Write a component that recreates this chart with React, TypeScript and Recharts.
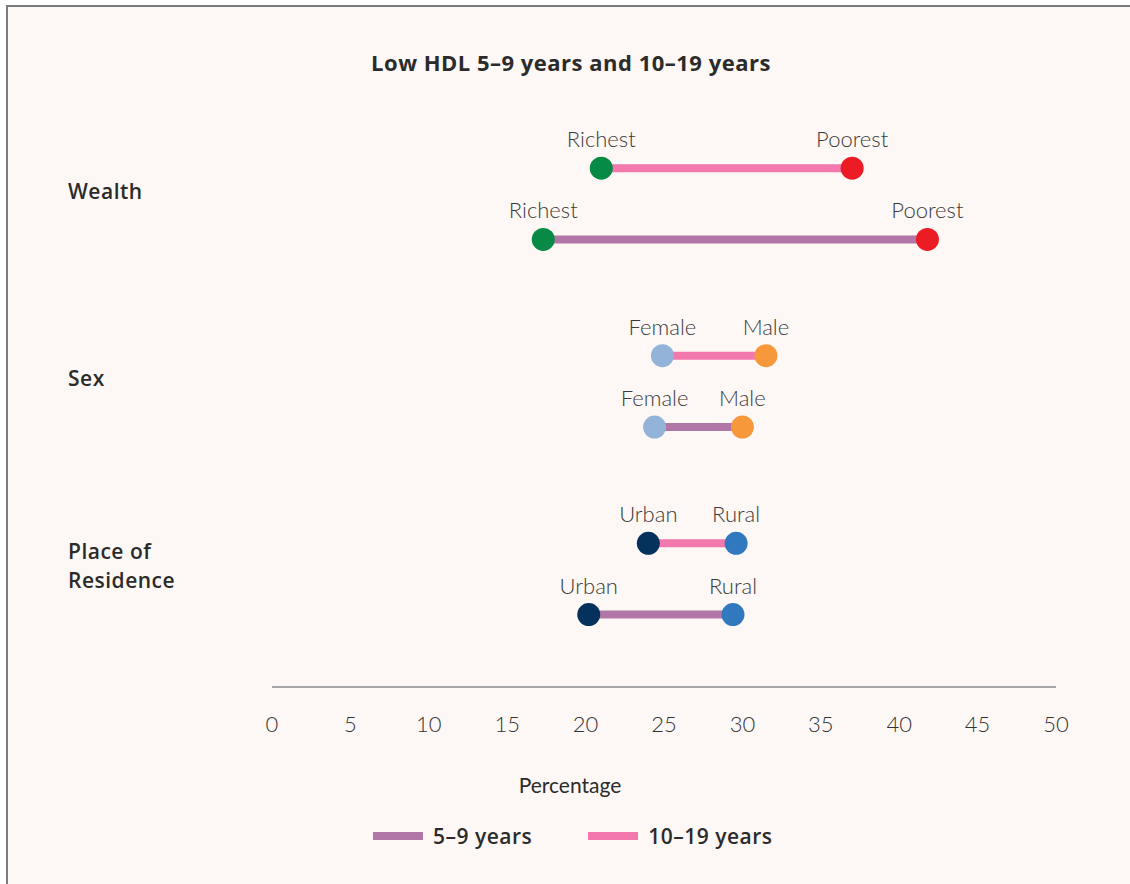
import { Scatter, ScatterChart, XAxis, YAxis } from 'recharts'

const groups = ['Wealth', 'Sex', 'Place of Residence']
const lowLabels = ['Richest', 'Female', 'Urban']
const highLabels = ['Poorest', 'Male', 'Rural']

const young5to9Low = [17.3, 24.4, 20.2]
const young5to9High = [41.8, 30.0, 29.4]
const teen10to19Low = [21.0, 24.9, 24.0]
const teen10to19High = [37.0, 31.5, 29.6]

const xTicks = [0, 5, 10, 15, 20, 25, 30, 35, 40, 45, 50]

const font = 'Lato, "Open Sans", sans-serif'
const boldFont = '"Open Sans", Lato, sans-serif'
const textColor = '#2b2b2b'

const pointColors: Record<string, string> = {
  Richest: '#078a45',
  Poorest: '#ec1c24',
  Female: '#93b3d8',
  Male: '#f7993a',
  Urban: '#05325c',
  Rural: '#3179bf',
}

const cohorts = [
  { name: '5–9 years', low: young5to9Low, high: young5to9High, color: '#b077a6', shift: -0.19 },
  { name: '10–19 years', low: teen10to19Low, high: teen10to19High, color: '#f278ae', shift: 0.19 },
]

// group index runs bottom-up so Wealth sits on top
const rowOf = (i: number) => groups.length - 1 - i

const series = groups.flatMap((group, i) =>
  cohorts.map((c) => ({
    key: `${group}-${c.name}`,
    color: c.color,
    data: [
      { x: c.low[i], y: rowOf(i) + c.shift, label: lowLabels[i] },
      { x: c.high[i], y: rowOf(i) + c.shift, label: highLabels[i] },
    ],
  })),
)

function Dot(props: any) {
  const { cx, cy, payload } = props
  return (
    <g>
      <circle cx={cx} cy={cy} r={11.5} fill={pointColors[payload.label]} />
      <text
        x={cx}
        y={cy - 21}
        textAnchor="middle"
        fontFamily={font}
        fontWeight={300}
        fontSize={22}
        fill="#3a3a3a"
      >
        {payload.label}
      </text>
    </g>
  )
}

function GroupTick(props: any) {
  const { y, payload } = props
  const name = groups[rowOf(payload.value)]
  const lines = name === 'Place of Residence' ? ['Place of', 'Residence'] : [name]
  const top = y - 12 - ((lines.length - 1) * 29) / 2
  return (
    <text
      x={60}
      fontFamily={boldFont}
      fontWeight={600}
      fontSize={21}
      letterSpacing={0.5}
      fill={textColor}
      textAnchor="start"
    >
      {lines.map((l, k) => (
        <tspan key={l} x={60} y={top + k * 29 + 7}>
          {l}
        </tspan>
      ))}
    </text>
  )
}

function LegendBox() {
  return (
    <div
      style={{
        position: 'absolute',
        left: 365,
        top: 815,
        display: 'flex',
        gap: 56,
        fontFamily: boldFont,
      }}
    >
      {cohorts.map((c) => (
        <div key={c.name} style={{ display: 'flex', alignItems: 'center' }}>
          <span style={{ display: 'inline-block', width: 50, height: 8, background: c.color, marginRight: 10 }} />
          <span style={{ fontSize: 21, fontWeight: 600, letterSpacing: 0.5, color: textColor }}>{c.name}</span>
        </div>
      ))}
    </div>
  )
}

export default function App() {
  return (
    <div
      style={{
        position: 'absolute',
        left: 6,
        top: 5,
        width: 1122,
        height: 877,
        borderTop: '2px solid #7b7b7b',
        borderLeft: '2px solid #7b7b7b',
        background: '#fdf8f5',
        overflow: 'hidden',
      }}
    >
      <div
        style={{
          position: 'absolute',
          left: 0,
          width: 1126,
          top: 40,
          textAlign: 'center',
          fontFamily: boldFont,
          fontWeight: 700,
          fontSize: 22,
          letterSpacing: 0.5,
          color: textColor,
        }}
      >
        Low HDL 5–9 years and 10–19 years
      </div>
      <div
        style={{
          position: 'absolute',
          left: 462,
          width: 200,
          top: 765,
          textAlign: 'center',
          fontFamily: font,
          fontWeight: 400,
          fontSize: 21,
          color: textColor,
        }}
      >
        Percentage
      </div>
      <LegendBox />
      <ScatterChart width={1122} height={877} margin={{ top: 103, right: 74, left: 204, bottom: 157 }}>
        <XAxis
          type="number"
          dataKey="x"
          domain={[0, 50]}
          ticks={xTicks}
          height={40}
          tickLine={false}
          axisLine={{ stroke: '#8a8a8a', strokeWidth: 1.5 }}
          tickMargin={23}
          tick={{ fontFamily: font, fontWeight: 300, fontSize: 22, fill: '#333' }}
          interval={0}
        />
        <YAxis
          type="number"
          dataKey="y"
          domain={[-0.576, 2.5]}
          ticks={[0, 1, 2]}
          width={60}
          axisLine={false}
          tickLine={false}
          tick={<GroupTick />}
        />
        {series.map((s) => (
          <Scatter
            key={s.key}
            data={s.data}
            line={{ stroke: s.color, strokeWidth: 8 }}
            lineType="joint"
            shape={<Dot />}
            isAnimationActive={false}
          />
        ))}
      </ScatterChart>
    </div>
  )
}
